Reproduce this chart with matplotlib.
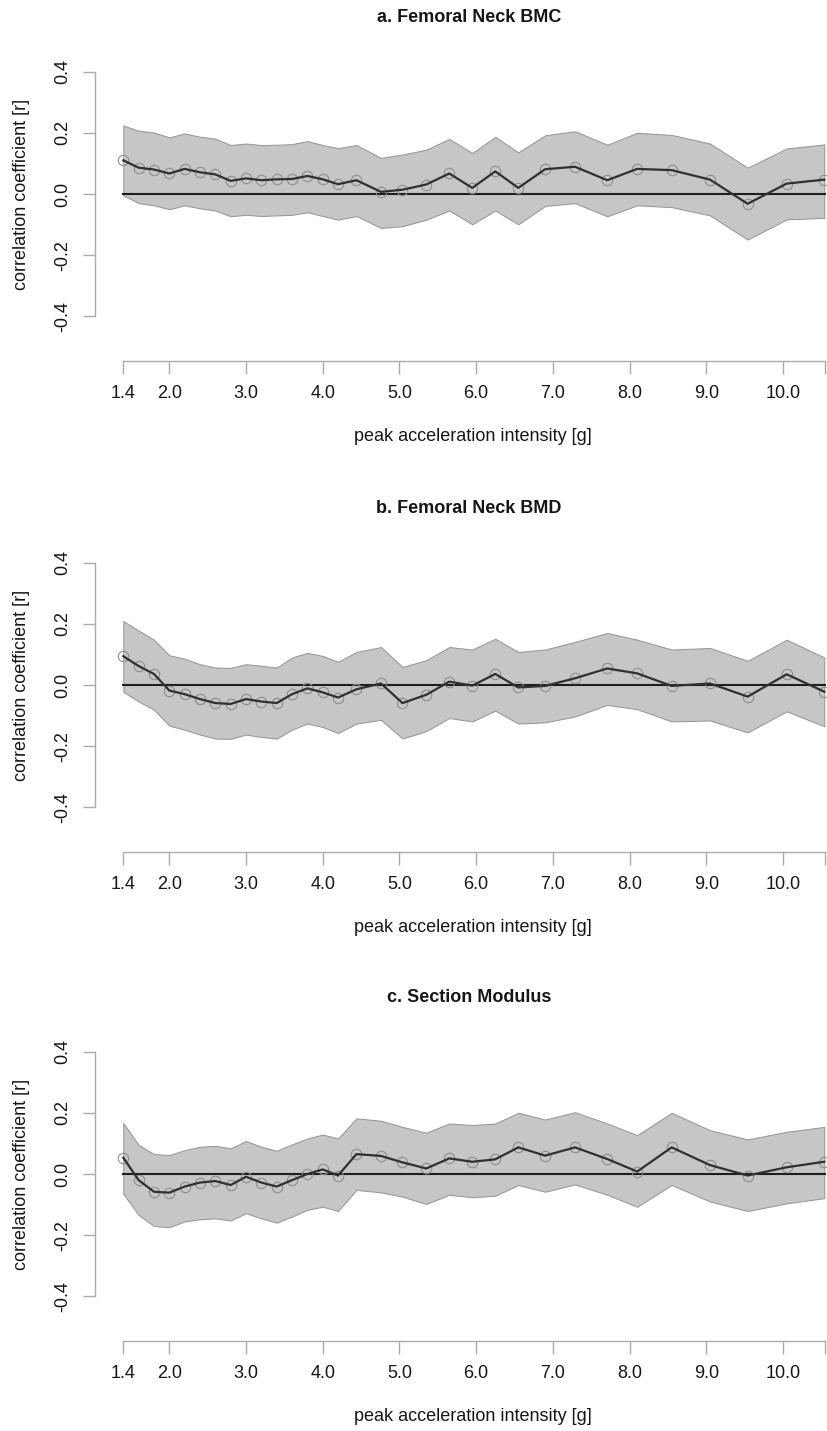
'''
Correlation of bone outcomes with peak acceleration intensity
three stacked panels, R-style base graphics look
'''

import numpy as np
import matplotlib
matplotlib.use('Agg')
import matplotlib.pyplot as plt
import matplotlib.transforms as mtransforms

plt.rcParams['font.family'] = ['Liberation Sans', 'DejaVu Sans']

# x positions of the intensity bins [g]
g = [1.4, 1.6, 1.8, 2.0, 2.2, 2.4, 2.6, 2.8, 3.0, 3.2, 3.4, 3.6, 3.8, 4.0, 4.2, 4.44,
     4.76, 5.04, 5.35, 5.65, 5.95, 6.25, 6.55, 6.90, 7.29, 7.71, 8.10, 8.55, 9.05,
     9.54, 10.05, 10.54]

xticks = [1.4, 2, 3, 4, 5, 6, 7, 8, 9, 10, 10.55]
xticklabels = ['1.4', '2.0', '3.0', '4.0', '5.0', '6.0', '7.0', '8.0', '9.0', '10.0', '']
yticks = [-0.4, -0.2, 0.0, 0.2, 0.4]

titles = ['a. Femoral Neck BMC', 'b. Femoral Neck BMD', 'c. Section Modulus']

# a. Femoral Neck BMC
r_bmc = [0.110, 0.086, 0.080, 0.067, 0.082, 0.071, 0.064, 0.043, 0.051, 0.045, 0.048,
         0.049, 0.059, 0.048, 0.032, 0.045, 0.007, 0.014, 0.031, 0.067, 0.020, 0.074,
         0.020, 0.081, 0.089, 0.045, 0.082, 0.078, 0.047, -0.032, 0.034, 0.047]
hi_bmc = [0.224, 0.207, 0.201, 0.185, 0.198, 0.187, 0.181, 0.160, 0.165, 0.160, 0.161,
          0.163, 0.173, 0.160, 0.150, 0.160, 0.118, 0.129, 0.145, 0.180, 0.134, 0.187,
          0.136, 0.192, 0.205, 0.161, 0.200, 0.193, 0.165, 0.086, 0.149, 0.162]
lo_bmc = [-0.004, -0.030, -0.037, -0.050, -0.037, -0.047, -0.054, -0.073, -0.068, -0.072,
          -0.070, -0.068, -0.060, -0.072, -0.084, -0.072, -0.111, -0.105, -0.084, -0.054,
          -0.099, -0.054, -0.099, -0.039, -0.030, -0.073, -0.037, -0.043, -0.070, -0.149,
          -0.083, -0.078]

# b. Femoral Neck BMD
r_bmd = [0.094, 0.062, 0.036, -0.018, -0.030, -0.046, -0.059, -0.062, -0.046, -0.054,
         -0.059, -0.030, -0.011, -0.024, -0.041, -0.014, 0.005, -0.059, -0.032, 0.011,
         -0.002, 0.036, -0.008, -0.003, 0.022, 0.054, 0.038, -0.003, 0.005, -0.038,
         0.035, -0.022]
hi_bmd = [0.209, 0.178, 0.148, 0.097, 0.086, 0.068, 0.057, 0.056, 0.068, 0.063, 0.057,
          0.090, 0.105, 0.095, 0.076, 0.108, 0.124, 0.059, 0.081, 0.124, 0.116, 0.151,
          0.108, 0.116, 0.141, 0.170, 0.148, 0.116, 0.121, 0.079, 0.148, 0.090]
lo_bmd = [-0.022, -0.054, -0.081, -0.133, -0.146, -0.162, -0.175, -0.176, -0.162, -0.170,
          -0.175, -0.146, -0.126, -0.137, -0.157, -0.126, -0.114, -0.175, -0.151, -0.108,
          -0.119, -0.084, -0.126, -0.122, -0.103, -0.065, -0.079, -0.119, -0.116, -0.155,
          -0.086, -0.135]

# c. Section Modulus
r_sm = [0.053, -0.020, -0.058, -0.061, -0.041, -0.028, -0.023, -0.036, -0.009, -0.028,
        -0.041, -0.020, 0.000, 0.015, -0.005, 0.065, 0.059, 0.038, 0.018, 0.051, 0.040,
        0.048, 0.087, 0.060, 0.087, 0.049, 0.008, 0.087, 0.029, -0.005, 0.022, 0.040]
hi_sm = [0.167, 0.095, 0.065, 0.062, 0.078, 0.089, 0.092, 0.084, 0.108, 0.089, 0.076,
         0.097, 0.116, 0.129, 0.116, 0.182, 0.174, 0.154, 0.135, 0.165, 0.160, 0.165,
         0.200, 0.178, 0.202, 0.165, 0.127, 0.200, 0.143, 0.113, 0.138, 0.154]
lo_sm = [-0.065, -0.134, -0.170, -0.174, -0.155, -0.148, -0.145, -0.152, -0.128, -0.145,
         -0.159, -0.139, -0.117, -0.107, -0.121, -0.052, -0.060, -0.074, -0.098, -0.068,
         -0.076, -0.071, -0.036, -0.058, -0.034, -0.068, -0.107, -0.036, -0.090, -0.121,
         -0.096, -0.079]

panels = [(r_bmc, hi_bmc, lo_bmc), (r_bmd, hi_bmd, lo_bmd), (r_sm, hi_sm, lo_sm)]

# Layout (pixels of the 827x1431 figure)
W, H = 827, 1431
zero_px = [194, 685, 1174]     # y pixel of r = 0 in each panel
scale = 306                    # px per unit r
ytop, ybot = 0.44, -0.545
left_px = 95
xlim = (1.031, 10.575)

axcol = '#ababab'
txtcol = '#161616'

fig = plt.figure(figsize=(W/100, H/100), dpi=100)

for i in range(3):
    r, hi, lo = panels[i]
    top = zero_px[i] - ytop*scale
    bot = zero_px[i] - ybot*scale
    ax = fig.add_axes([left_px/W, 1 - bot/H, (W - left_px)/W, (bot - top)/H])
    ax.set_xlim(xlim)
    ax.set_ylim(ybot, ytop)

    # confidence band, zero line, r curve
    ax.fill_between(g, lo, hi, facecolor='#c6c6c6', edgecolor='#939393', linewidth=0.7, zorder=1)
    ax.plot([g[0], xticks[-1]], [0, 0], color='#1e1e1e', linewidth=1.5, zorder=2)
    ax.plot(g, r, linestyle='none', marker='o', markersize=7.5, markerfacecolor='none',
            markeredgecolor='#8e8e8e', markeredgewidth=0.8, zorder=3, clip_on=False)
    ax.plot(g, r, color='#303030', linewidth=1.6, zorder=4)

    # R-style detached axes
    for s in ['top', 'right']:
        ax.spines[s].set_visible(False)
    ax.spines['left'].set_bounds(-0.4, 0.4)
    ax.spines['bottom'].set_bounds(xticks[0], xticks[-1])
    ax.spines['left'].set_color(axcol)
    ax.spines['bottom'].set_color(axcol)
    ax.spines['left'].set_linewidth(1.0)
    ax.spines['bottom'].set_linewidth(1.0)

    ax.set_xticks(xticks)
    ax.set_xticklabels(xticklabels)
    ax.set_yticks(yticks)
    ax.set_yticklabels(['%.1f' % v for v in yticks], rotation=90, va='center')
    ax.tick_params(axis='both', colors=axcol, length=9, width=1.0, labelsize=13, labelcolor=txtcol)
    ax.tick_params(axis='x', pad=8.5)
    ax.tick_params(axis='y', pad=8)

    # labels and title
    trans = mtransforms.blended_transform_factory(ax.transAxes, ax.transData)
    ax.text((473 - left_px)/(W - left_px), ybot - 76/scale, 'peak acceleration intensity [g]',
            transform=trans, ha='center', va='center', fontsize=13, color=txtcol)
    ax.text((22 - left_px)/(W - left_px), 0.0, 'correlation coefficient [r]', transform=trans,
            rotation=90, ha='center', va='center', fontsize=13, color=txtcol)
    ax.text((469 - left_px)/(W - left_px), 0.4 + 54/scale, titles[i], transform=trans,
            ha='center', va='center', fontsize=13, fontweight='bold', color=txtcol)

fig.savefig('out.png', dpi=100)
